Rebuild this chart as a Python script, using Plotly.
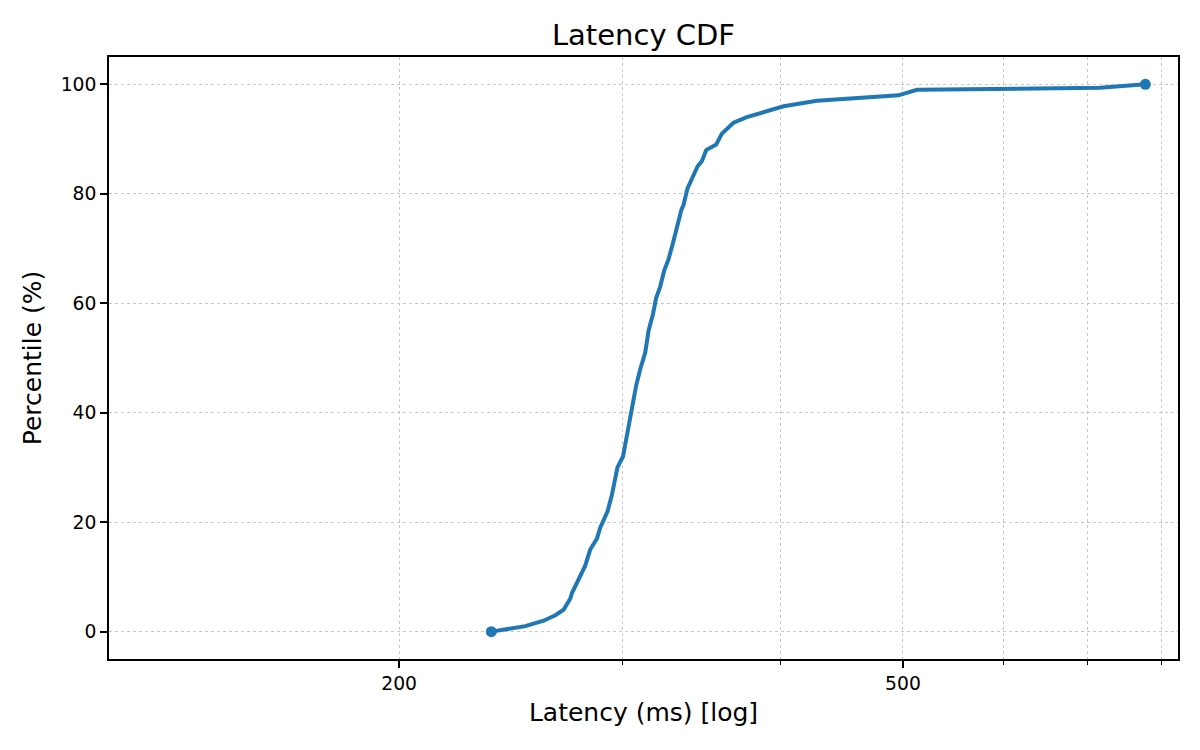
import numpy as np
import plotly.graph_objects as go

# latency values (ms), with the matching percentile
latency_ms = [236.5, 251.6, 260.1, 265.7, 269.7, 273.0, 273.8, 278.0, 280.5, 283.1,
              286.6, 288.3, 292.2, 294.5, 297.5, 300.5, 302.7, 305.4, 307.8, 310.1,
              312.9, 314.8, 317.3, 319.2, 321.5, 323.9, 326.4, 329.1, 331.5, 334.1,
              335.5, 337.9, 344.1, 346.9, 349.6, 356.0, 359.7, 367.4, 376.4, 390.4,
              402.4, 427.6, 496.0, 512.9, 715.8, 777.0]
percentile = [0, 1, 2, 3, 4, 6, 7, 10, 12, 15,
              17, 19, 22, 25, 30, 32, 36, 40, 45, 48,
              51, 55, 58, 61, 63, 66, 68, 71, 74, 77,
              78, 81, 85, 86, 88, 89, 91, 93, 94, 95,
              96, 97, 98, 99, 99.4, 100]

x_major = [200, 500]
x_minor = [300, 400, 600, 700, 800]
y_ticks = [0, 20, 40, 60, 80, 100]

blue = "#1f77b4"
grid_col = "#c8c8c8"
font = "DejaVu Sans"

fig = go.Figure()
fig.add_trace(go.Scatter(x=latency_ms, y=percentile, mode="lines",
                         line=dict(color=blue, width=4), showlegend=False))
# endpoints marked
fig.add_trace(go.Scatter(x=[latency_ms[0], latency_ms[-1]],
                         y=[percentile[0], percentile[-1]], mode="markers",
                         marker=dict(color=blue, size=11), showlegend=False))

# page body adds an 8px offset, margins compensate for it
fig.update_layout(
    width=1200, height=750,
    paper_bgcolor="white", plot_bgcolor="white",
    margin=dict(l=101, r=30, t=49, b=99, autoexpand=False),
    font=dict(family=font, color="black"),
    title=dict(text="Latency CDF", x=(101 + 1170) / 2 / 1200, xanchor="center",
               y=1 - 27 / 750, yanchor="middle", yref="container",
               font=dict(size=29, family=font, color="black")),
)

fig.update_xaxes(
    type="log", range=[np.log10(118.0), np.log10(824.5)],
    tickmode="array", tickvals=x_major, ticktext=[str(v) for v in x_major],
    ticks="outside", ticklen=7, tickwidth=1.6, tickcolor="black",
    tickfont=dict(size=18.75),
    showline=True, linecolor="black", linewidth=1.6, mirror=True,
    showgrid=True, gridcolor=grid_col, gridwidth=1.2, griddash="dot",
    minor=dict(tickmode="array", tickvals=x_minor, ticks="outside", ticklen=4,
               tickwidth=1.2, tickcolor="black", showgrid=True,
               gridcolor=grid_col, gridwidth=1.2, griddash="dot"),
    title=dict(text="Latency (ms) [log]", font=dict(size=25), standoff=10),
    zeroline=False,
)
fig.update_yaxes(
    range=[-5, 105], tickmode="array", tickvals=y_ticks,
    ticks="outside", ticklen=7, tickwidth=1.6, tickcolor="black",
    tickfont=dict(size=18.75),
    showline=True, linecolor="black", linewidth=1.6, mirror=True,
    showgrid=True, gridcolor=grid_col, gridwidth=1.2, griddash="dot",
    title=dict(text="Percentile (%)", font=dict(size=25), standoff=12),
    zeroline=False,
)

fig.write_html("out.html")
